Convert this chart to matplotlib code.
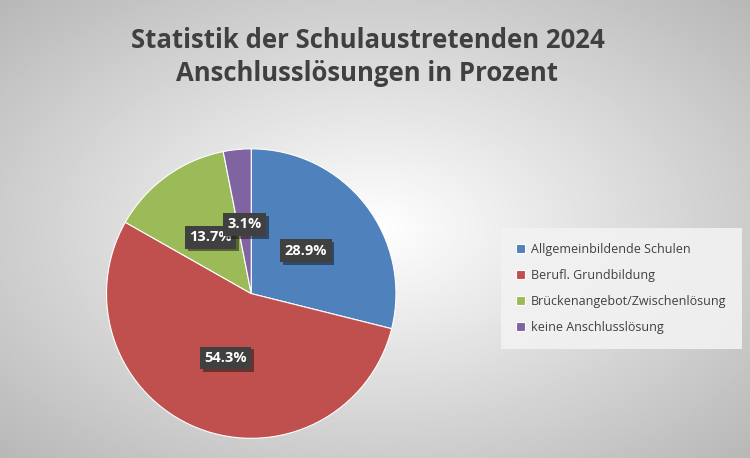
import numpy as np
import matplotlib.pyplot as plt
import matplotlib.patheffects as pe

plt.rcParams["font.family"] = "Open Sans"

# ── Data ──────────────────────────────────────────────────────────────────────
categories = ["Allgemeinbildende Schulen", "Berufl. Grundbildung",
              "Brückenangebot/Zwischenlösung", "keine Anschlusslösung"]
values = [28.9, 54.3, 13.7, 3.1]
colors = ["#4f81bd", "#c0504d", "#9bbb59", "#8064a2"]

fig = plt.figure(figsize=(7.5, 4.58), dpi=100)

# radial grey background
bg = fig.add_axes([0, 0, 1, 1])
yy, xx = np.mgrid[-1:1:300j, -1:1:300j]
rr = np.sqrt(xx**2 + yy**2) / np.sqrt(2)
bg.imshow(1 - 0.28 * rr, cmap="gray", vmin=0, vmax=1, aspect="auto",
          extent=[0, 1, 0, 1])
bg.axis("off")

fig.text(0.49, 0.875, "Statistik der Schulaustretenden 2024\nAnschlusslösungen in Prozent",
         ha="center", va="center", fontsize=18.5, fontweight="bold",
         color="#404040", linespacing=1.3)

ax = fig.add_axes([0.093, -0.036, 0.484, 0.79])
wedges, texts, autotexts = ax.pie(
    values, colors=colors, startangle=90, counterclock=False,
    autopct="%.1f%%", pctdistance=0.48,
    wedgeprops=dict(edgecolor="white", linewidth=0.8))
ax.set_aspect("equal")
for t in autotexts:
    t.set_color("white")
    t.set_fontweight("bold")
    t.set_fontsize(10.5)
    t.set_bbox(dict(boxstyle="square,pad=0.3", fc="#404040", ec="none"))
    t.get_bbox_patch().set_path_effects(
        [pe.SimplePatchShadow(offset=(2, -2), alpha=0.5), pe.Normal()])

leg = fig.legend(wedges, categories, loc="center left",
                 bbox_to_anchor=(0.665, 0.37), fontsize=9, frameon=True,
                 handlelength=0.7, handleheight=0.7, labelspacing=1.05,
                 borderpad=0.9, handletextpad=0.5)
leg.get_frame().set_facecolor("#f2f2f2")
leg.get_frame().set_edgecolor("none")
leg.get_frame().set_alpha(0.9)
leg.get_frame().set_boxstyle("square")
for t in leg.get_texts():
    t.set_color("#404040")

fig.savefig("out.png", dpi=100)
